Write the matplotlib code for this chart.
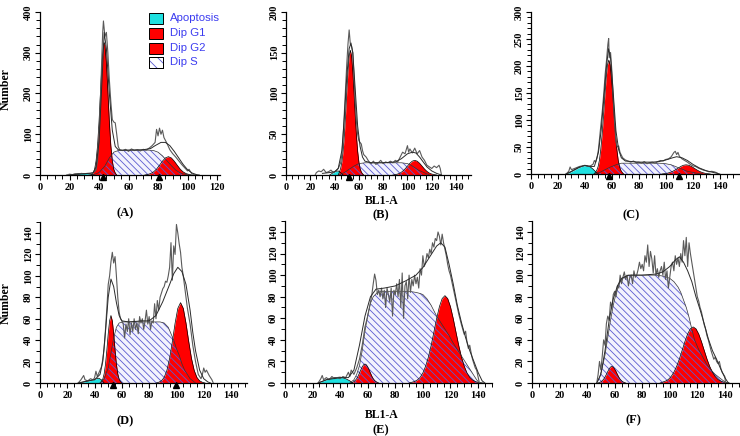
import numpy as np
import matplotlib
matplotlib.use("Agg")
import matplotlib.pyplot as plt
from matplotlib.patches import Rectangle
from matplotlib.ticker import MultipleLocator

W, H = 740, 436

RED = "#ff0000"
CYAN = "#1ee0e0"
LAVENDER = "#f2f2fd"
HATCH_C = "#5a5ad0"
TEXT_BLUE = "#3c3cf0"

LEGEND_LABELS = ["Apoptosis", "Dip G1", "Dip G2", "Dip S"]
PANEL_NAMES = ["(A)", "(B)", "(C)", "(D)", "(E)", "(F)"]

# ---------------- panel A ----------------
A_APOP = [(20, 0), (23, 2), (27, 4), (31, 4), (34, 2), (37, 0)]
A_G1 = [(35, 0), (36, 5), (37, 14), (38, 35), (39, 72), (40, 131), (41, 205), (42, 275), (43, 319),
        (43.5, 325), (44, 319), (45, 275), (46, 205), (47, 131), (48, 72), (49, 35), (50, 14), (51, 5), (52, 0)]
A_S = [(36, 0), (40, 6), (44, 22), (47, 42), (50, 56), (53, 60), (60, 61), (70, 61), (74, 61), (77, 60),
       (80, 56), (83, 47), (86, 35), (89, 23), (92, 12), (95, 5), (98, 2), (101, 0)]
A_G2 = [(71, 0), (73, 1.4), (75, 3.5), (77, 7.7), (79, 14.5), (81, 24), (83, 34), (85, 42), (87, 45), (89, 42),
        (91, 34), (93, 24), (95, 14.5), (97, 7.7), (99, 3.5), (101, 1.4), (103, 0)]
A_RAW = [(18, 0), (20, 2), (22, 1), (24, 3), (26, 2), (28, 4), (30, 3), (32, 4), (34, 4), (36, 6), (37, 8),
         (38, 13), (39, 35), (40, 90), (41, 190), (42, 300), (42.5, 350), (43, 378), (44, 340), (45, 350),
         (46, 300), (47, 234), (48, 180), (49, 136), (50, 130), (51, 128), (52, 100), (53, 70), (54, 62),
         (56, 60), (58, 63), (60, 58), (62, 64), (64, 60), (66, 62), (68, 59), (70, 63), (72, 61), (74, 66),
         (76, 72), (78, 80), (79, 112), (80, 96), (81, 115), (82, 100), (83, 110), (84, 92), (86, 78),
         (88, 62), (90, 52), (92, 44), (94, 35), (96, 26), (98, 18), (100, 10), (101, 14), (102, 8),
         (103, 3), (104, 1), (106, 0)]
A_FIT = [(20, 0), (30, 3), (36, 5), (38, 20), (40, 80), (42, 230), (43.5, 350), (45, 310), (47, 200),
         (49, 110), (51, 70), (53, 62), (55, 61), (60, 61), (70, 62), (75, 65), (78, 72), (82, 80), (85, 80),
         (88, 72), (91, 58), (94, 42), (97, 26), (100, 13), (103, 5), (106, 1), (108, 0)]
A_MARKS = [43, 80.5]

# ---------------- panel B ----------------
B_APOP = [(36, 0), (38, 2), (41, 4.5), (43, 5), (45, 3), (47, 0)]
B_G1 = [(43, 0), (44, 3.7), (45, 8), (46, 16), (47, 29), (48, 48), (49, 73), (50, 101), (51, 127), (52, 146),
        (53, 153), (54, 146), (55, 127), (56, 101), (57, 73), (58, 48), (59, 29), (60, 16), (61, 8),
        (62, 3.7), (63, 1.5), (64, 0)]
B_S = [(44, 0), (48, 3), (52, 7), (56, 11), (60, 14), (65, 15), (80, 15), (95, 15), (100, 14), (103, 12),
       (106, 9), (109, 6), (112, 4), (115, 2), (118, 0)]
B_G2 = [(88, 0), (90, 0.5), (92, 1.2), (94, 2.4), (96, 4.5), (98, 7.4), (100, 10.9), (102, 14.4), (104, 17),
        (106, 18), (108, 17), (110, 14.4), (112, 10.9), (114, 7.4), (116, 4.5), (118, 2.4), (120, 1.2),
        (122, 0.5), (124, 0)]
B_RAW = [(24, 0), (25, 3), (27, 5), (29, 4), (31, 7), (33, 3), (35, 4), (37, 6), (39, 3), (41, 5), (43, 8),
         (45, 15), (46, 25), (47, 45), (48, 75), (49, 105), (50, 135), (51, 160), (52, 178), (53, 160),
         (54, 158), (55, 150), (56, 120), (57, 90), (58, 65), (59, 50), (60, 42), (61, 40), (62, 38),
         (63, 30), (64, 25), (66, 22), (68, 17), (70, 14), (72, 17), (74, 13), (76, 15), (78, 18), (80, 14),
         (82, 16), (84, 15), (86, 17), (88, 15), (90, 18), (92, 16), (94, 22), (96, 28), (98, 26), (100, 36),
         (101, 28), (102, 32), (104, 27), (106, 33), (108, 26), (110, 30), (112, 22), (114, 18), (116, 12),
         (118, 10), (120, 8), (122, 11), (124, 9), (126, 12), (127, 8), (128, 0)]
B_FIT = [(30, 2), (36, 3), (40, 4), (43, 8), (46, 30), (48, 70), (50, 120), (52, 155), (53.5, 162),
         (55, 150), (57, 105), (59, 60), (61, 35), (63, 22), (65, 17), (70, 15), (80, 15), (90, 16), (95, 20),
         (100, 26), (104, 28), (107, 27), (110, 22), (113, 16), (116, 10), (120, 5), (124, 2), (128, 0)]
B_MARKS = [51.6]

# ---------------- panel C ----------------
C_APOP = [(26, 0), (29, 3), (32, 7), (35, 11), (38, 14.5), (40, 15.5), (42, 15), (44, 13), (46, 9),
          (48, 4), (50, 0)]
C_G1 = [(46.7, 0), (47.7, 2.8), (48.7, 6.4), (49.7, 13), (50.7, 25), (51.7, 44.5), (52.7, 71.5),
        (53.7, 105.5), (54.7, 143), (55.7, 177), (56.7, 202), (57.7, 211), (58.7, 202), (59.7, 177),
        (60.7, 143), (61.7, 105.5), (62.7, 71.5), (63.7, 44.5), (64.7, 25), (65.7, 13), (66.7, 6.4),
        (67.7, 2.8), (68.7, 0)]
C_S = [(47, 0), (51, 3), (55, 8), (59, 13), (63, 17), (67, 20), (75, 20), (85, 20), (95, 20), (100, 19),
       (104, 17), (108, 13), (112, 9), (116, 5), (120, 3), (124, 1), (127, 0)]
C_G2 = [(97, 0), (99, 0.7), (101, 1.4), (103, 2.8), (105, 4.8), (107, 7.6), (109, 10.8), (111, 13.9),
        (113, 16.2), (115, 17), (117, 16.2), (119, 13.9), (121, 10.8), (123, 7.6), (125, 4.8), (127, 2.8),
        (129, 1.4), (131, 0.7), (133, 0)]
C_RAW = [(26, 0), (28, 5), (29, 13), (30, 8), (32, 10), (34, 12), (36, 14), (38, 15), (40, 16), (42, 14),
         (44, 15), (46, 18), (47, 25), (48, 22), (49, 30), (50, 45), (51, 70), (52, 95), (53, 120), (54, 150),
         (55, 185), (56, 210), (57, 240), (57.6, 251), (58, 215), (59, 225), (60, 190), (61, 140), (62, 95),
         (63, 60), (64, 50), (65, 52), (66, 40), (67, 35), (68, 30), (70, 26), (72, 24), (74, 22), (76, 24),
         (78, 21), (80, 22), (82, 20), (84, 23), (86, 19), (88, 21), (90, 22), (92, 20), (94, 23), (96, 25),
         (98, 24), (100, 27), (102, 28), (104, 32), (106, 40), (107, 42), (108, 36), (109, 40), (110, 33),
         (112, 28), (114, 25), (116, 22), (118, 18), (120, 15), (122, 14), (124, 11), (126, 9), (128, 7),
         (130, 6), (132, 4), (134, 5), (136, 4), (138, 2), (139, 0)]
C_FIT = [(26, 0), (30, 5), (35, 12), (40, 16), (44, 14), (47, 14), (50, 40), (52, 80), (54, 140), (56, 200),
         (57.5, 232), (59, 215), (61, 150), (63, 80), (65, 45), (67, 30), (70, 24), (80, 22), (90, 22),
         (95, 23), (100, 26), (105, 30), (108, 32), (112, 30), (116, 25), (120, 18), (125, 11), (130, 6),
         (135, 3), (140, 0)]
C_MARKS = [57.5, 110]

# ---------------- panel D ----------------
D_APOP = [(28, 0), (32, 1), (36, 2), (40, 3.5), (43, 4.5), (45, 3), (47, 0)]
D_G1 = [(44, 0), (45, 1.3), (46, 3.5), (47, 8.5), (48, 17.5), (49, 30.7), (50, 46), (51, 58), (52, 63),
        (53, 58), (54, 46), (55, 30.7), (56, 17.5), (57, 8.5), (58, 3.5), (59, 1.3), (60, 0)]
D_S = [(44, 0), (47, 4), (50, 14), (52, 28), (54, 42), (56, 52), (58, 56), (61, 57), (70, 57), (80, 57),
       (88, 57), (91, 56), (94, 52), (96, 46), (98, 40), (100, 32), (102, 26), (104, 18), (106, 12),
       (108, 8), (110, 4), (112, 2), (114, 0)]
D_G2 = [(85, 0), (87, 0.7), (89, 2), (91, 5.2), (93, 11.8), (95, 23), (97, 38.6), (99, 55.8), (101, 69.7),
        (103, 75), (105, 69.7), (107, 55.8), (109, 38.6), (111, 23), (113, 11.8), (115, 5.2), (117, 2),
        (119, 0.7), (121, 0)]
D_RAW = [(28, 0), (30, 3), (32, 7), (33, 3), (35, 2), (37, 4), (39, 3), (40, 5), (41, 11), (42, 6), (43, 9),
         (44, 12), (45, 15), (46, 22), (47, 32), (48, 50), (49, 70), (50, 92), (51, 100), (52, 113),
         (53, 122), (54, 112), (55, 118), (56, 100), (57, 80), (58, 66), (59, 60), (60, 58), (61, 55),
         (62, 42), (63, 55), (64, 48), (65, 60), (66, 45), (67, 56), (68, 48), (69, 60), (70, 50), (71, 56),
         (72, 46), (73, 62), (74, 56), (75, 60), (76, 50), (77, 58), (78, 68), (79, 55), (80, 62), (81, 50),
         (82, 58), (83, 56), (84, 74), (85, 60), (86, 77), (87, 68), (88, 80), (89, 84), (90, 88), (91, 90),
         (92, 95), (93, 94), (94, 100), (95, 108), (96, 131), (97, 96), (98, 128), (99, 120), (100, 148),
         (101, 140), (102, 130), (103, 122), (104, 108), (105, 100), (106, 90), (107, 80), (108, 70),
         (110, 55), (112, 35), (114, 20), (116, 8), (118, 4), (119, 8), (120, 14), (121, 10), (122, 12),
         (124, 7), (126, 3), (127, 0)]
D_FIT = [(28, 0), (35, 2), (40, 3), (44, 8), (46, 20), (48, 48), (50, 80), (52, 97), (54, 90), (56, 75),
         (58, 63), (60, 58), (65, 57), (75, 58), (80, 58), (85, 63), (90, 76), (95, 92), (98, 102),
         (101, 108), (104, 104), (107, 92), (110, 68), (112, 47), (114, 30), (117, 12), (120, 4), (123, 1),
         (125, 0)]
D_MARKS = [53.7, 100]

# ---------------- panel E ----------------
E_APOP = [(24, 0), (28, 2), (32, 4), (36, 5), (40, 5.5), (44, 4), (47, 2), (49, 0)]
E_G1 = [(48, 0), (49, 0.6), (50, 1.3), (51, 2.4), (52, 4), (53, 6.3), (54, 9.2), (55, 12.2), (56, 14.9),
        (57, 16.9), (58, 17.6), (59, 16.9), (60, 14.9), (61, 12.2), (62, 9.2), (63, 6.3), (64, 4), (65, 2.4),
        (66, 1.3), (67, 0.6), (68, 0)]
E_S = [(47, 0), (50, 3), (52, 8), (54, 16), (56, 30), (58, 48), (60, 63), (62, 74), (64, 80), (67, 84),
       (70, 85), (80, 85), (90, 85), (95, 84), (98, 83), (100, 82), (103, 78), (106, 72), (108, 67),
       (110, 62), (113, 56), (116, 50), (119, 44), (122, 37), (125, 31), (128, 25), (131, 19), (134, 13),
       (137, 7), (139, 3), (141, 0)]
E_G2 = [(90, 0), (92, 0.7), (94, 1.4), (96, 2.8), (98, 5.2), (100, 9.3), (102, 15.6), (104, 24), (106, 34.8),
        (108, 47.2), (110, 59.8), (112, 70.8), (114, 78.3), (116, 81), (118, 78.3), (120, 70.8), (122, 59.8),
        (124, 47.2), (126, 34.8), (128, 24), (130, 15.6), (132, 9.3), (134, 5.2), (136, 2.8), (138, 1.4),
        (140, 0.6), (142, 0.3), (144, 0)]
E_RAW = [(24, 0), (26, 4), (27, 7), (28, 3), (30, 5), (32, 3), (34, 6), (36, 4), (38, 5), (40, 4), (42, 6),
         (44, 5), (46, 10), (47, 6), (48, 12), (50, 8), (52, 14), (54, 22), (56, 35), (58, 52), (60, 62),
         (62, 75), (63, 82), (64, 92), (65, 101), (66, 95), (67, 82), (68, 86), (69, 80), (70, 88), (71, 78),
         (72, 86), (73, 70), (74, 88), (75, 82), (76, 75), (77, 88), (78, 62), (79, 86), (80, 82), (81, 92),
         (82, 80), (83, 96), (84, 70), (85, 102), (86, 60), (87, 90), (88, 94), (89, 78), (90, 100), (91, 84),
         (92, 96), (93, 90), (94, 100), (95, 92), (96, 98), (97, 88), (98, 106), (99, 100), (100, 118),
         (101, 108), (102, 112), (103, 120), (104, 116), (105, 124), (106, 120), (107, 130), (108, 126),
         (109, 134), (110, 132), (111, 140), (112, 136), (113, 128), (114, 138), (115, 130), (116, 124),
         (117, 118), (118, 110), (119, 104), (120, 100), (122, 88), (124, 76), (126, 64), (128, 54),
         (130, 45), (131, 48), (132, 38), (133, 32), (134, 35), (135, 28), (136, 22), (137, 18), (138, 14),
         (139, 12), (140, 6), (141, 0)]
E_FIT = [(24, 0), (30, 3), (40, 5), (46, 5), (50, 12), (54, 35), (58, 62), (62, 80), (66, 87), (72, 88),
         (80, 90), (88, 95), (95, 100), (100, 107), (105, 117), (110, 127), (113, 130), (116, 126),
         (119, 110), (122, 92), (125, 72), (128, 56), (131, 42), (134, 30), (137, 20), (140, 10), (143, 2),
         (145, 0)]
E_MARKS = []

# ---------------- panel F ----------------
F_APOP = []
F_G1 = [(48, 0), (49, 0.5), (50, 1.1), (51, 2.1), (52, 3.5), (53, 5.5), (54, 8), (55, 10.7), (56, 13),
        (57, 14.8), (58, 15.4), (59, 14.8), (60, 13), (61, 10.7), (62, 8), (63, 5.5), (64, 3.5), (65, 2.1),
        (66, 1.1), (67, 0.5), (68, 0)]
F_S = [(47, 0), (49, 5), (51, 14), (53, 26), (55, 42), (57, 58), (59, 72), (61, 83), (63, 91), (65, 96),
       (68, 99), (72, 100), (80, 100), (90, 100), (96, 99), (100, 97), (103, 94), (106, 89), (108, 84),
       (110, 77), (112, 70), (114, 61), (116, 50), (118, 40), (121, 31), (124, 24), (127, 17), (130, 12),
       (133, 8), (136, 5), (139, 2), (142, 0)]
F_G2 = [(93, 0), (95, 0.9), (97, 1.8), (99, 3.3), (101, 6), (103, 10), (105, 15.4), (107, 22.3), (109, 30.3),
        (111, 38.4), (113, 45.5), (115, 50.3), (117, 52), (119, 50.3), (121, 45.5), (123, 38.4), (125, 30.3),
        (127, 22.3), (129, 15.4), (131, 10), (133, 6), (135, 3.3), (137, 1.8), (139, 0.9), (141, 0.4),
        (143, 0)]
F_RAW = [(47, 0), (48, 8), (49, 20), (50, 12), (51, 25), (52, 40), (53, 35), (54, 55), (55, 62), (56, 58),
         (57, 75), (58, 70), (59, 82), (60, 85), (61, 80), (62, 90), (63, 88), (64, 100), (65, 92), (66, 98),
         (67, 103), (68, 96), (69, 100), (70, 90), (71, 98), (72, 100), (73, 92), (74, 104), (75, 98),
         (76, 100), (77, 105), (78, 112), (79, 106), (80, 110), (81, 104), (82, 118), (83, 112), (84, 128),
         (85, 108), (86, 122), (87, 115), (88, 102), (89, 118), (90, 100), (91, 106), (92, 98), (93, 104),
         (94, 108), (95, 100), (96, 112), (97, 96), (98, 104), (99, 88), (100, 98), (101, 108), (102, 112),
         (103, 104), (104, 118), (105, 110), (106, 116), (107, 108), (108, 120), (109, 112), (110, 132),
         (111, 118), (112, 135), (113, 108), (114, 130), (115, 120), (116, 112), (117, 104), (118, 96),
         (119, 88), (120, 80), (121, 76), (122, 70), (123, 66), (124, 60), (125, 54), (126, 50), (127, 44),
         (128, 40), (129, 35), (130, 30), (131, 26), (132, 22), (133, 24), (134, 20), (135, 18), (136, 20),
         (137, 14), (138, 10), (139, 8), (140, 6), (140.5, 0)]
F_FIT = [(47, 0), (50, 8), (53, 30), (56, 58), (59, 78), (62, 90), (65, 97), (70, 100), (80, 100),
         (90, 101), (95, 103), (100, 108), (104, 114), (107, 117), (110, 112), (113, 104), (116, 94),
         (119, 80), (122, 68), (125, 55), (128, 41), (131, 30), (134, 22), (137, 13), (140, 5), (142, 1),
         (143, 0)]
F_MARKS = []

# axes placement in pixels: left, right, top, bottom
PANELS = [
    dict(px=(40, 220, 12, 175), xlim=122, ylim=400, ymaj=100, ymin=20,
         apop=A_APOP, g1=A_G1, s=A_S, g2=A_G2, raw=A_RAW, fit=A_FIT, marks=A_MARKS),
    dict(px=(286, 470.6, 12, 175), xlim=152, ylim=200, ymaj=50, ymin=10,
         apop=B_APOP, g1=B_G1, s=B_S, g2=B_G2, raw=B_RAW, fit=B_FIT, marks=B_MARKS),
    dict(px=(531, 740, 12, 174), xlim=155, ylim=300, ymaj=50, ymin=10,
         apop=C_APOP, g1=C_G1, s=C_S, g2=C_G2, raw=C_RAW, fit=C_FIT, marks=C_MARKS),
    dict(px=(40, 247.4, 222.3, 383), xlim=152, ylim=150, ymaj=20, ymin=10,
         apop=D_APOP, g1=D_G1, s=D_S, g2=D_G2, raw=D_RAW, fit=D_FIT, marks=D_MARKS),
    dict(px=(285, 491.8, 221.2, 383), xlim=150, ylim=150, ymaj=20, ymin=10,
         apop=E_APOP, g1=E_G1, s=E_S, g2=E_G2, raw=E_RAW, fit=E_FIT, marks=E_MARKS),
    dict(px=(532, 740, 221.2, 383), xlim=151, ylim=150, ymaj=20, ymin=10,
         apop=F_APOP, g1=F_G1, s=F_S, g2=F_G2, raw=F_RAW, fit=F_FIT, marks=F_MARKS),
]

plt.rcParams["font.family"] = "Liberation Serif"
plt.rcParams["font.weight"] = "bold"
plt.rcParams["hatch.linewidth"] = 0.6
HATCH = "\\" * 5

fig = plt.figure(figsize=(W / 100, H / 100), dpi=100)


def xy(pairs):
    a = np.array(pairs, dtype=float)
    return a[:, 0], a[:, 1]


def component(ax, pairs, color, z):
    if not pairs:
        return
    x, y = xy(pairs)
    ax.fill_between(x, y, color=color, lw=0, zorder=z)
    ax.plot(x, y, color="black", lw=0.5, zorder=4)


for p in PANELS:
    l, r, t, b = p["px"]
    ax = fig.add_axes([l / W, 1 - b / H, (r - l) / W, (b - t) / H])
    ax.set_xlim(0, p["xlim"])
    ax.set_ylim(0, p["ylim"])

    sx, sy = xy(p["s"])
    ax.fill_between(sx, sy, color=LAVENDER, lw=0, zorder=1)
    component(ax, p["apop"], CYAN, 2)
    component(ax, p["g1"], RED, 2)
    component(ax, p["g2"], RED, 2)
    ax.fill_between(sx, sy, facecolor="none", edgecolor=HATCH_C, hatch=HATCH, lw=0, zorder=3)
    ax.plot(sx, sy, color="#333333", lw=0.5, zorder=4)

    rx, ry = xy(p["raw"])
    ax.plot(rx, ry, color="#5a5a5a", lw=0.8, zorder=5)
    fx, fy = xy(p["fit"])
    ax.plot(fx, fy, color="#2a2a2a", lw=0.7, zorder=5)

    for m in p["marks"]:
        ax.plot([m], [-0.012], marker="^", color="black", ms=4.5,
                transform=ax.get_xaxis_transform(), clip_on=False, zorder=6)

    for side in ["top", "right"]:
        ax.spines[side].set_visible(False)
    for side in ["left", "bottom"]:
        ax.spines[side].set_linewidth(0.9)
    ax.set_facecolor("none")
    ax.xaxis.set_major_locator(MultipleLocator(20))
    ax.xaxis.set_minor_locator(MultipleLocator(5))
    ax.yaxis.set_major_locator(MultipleLocator(p["ymaj"]))
    ax.yaxis.set_minor_locator(MultipleLocator(p["ymin"]))
    ax.tick_params(which="major", length=3.5, width=0.8, labelsize=7.5, pad=2)
    ax.tick_params(which="minor", length=2.8, width=0.7)
    ax.tick_params(axis="y", labelrotation=90, pad=1.5)
    for lab in ax.get_yticklabels():
        lab.set_va("center")

# overlay in pixel coordinates for labels and legend
ov = fig.add_axes([0, 0, 1, 1], zorder=10)
ov.set_xlim(0, W)
ov.set_ylim(H, 0)
ov.axis("off")

for yc in (89, 303):
    ov.text(6, yc, "Number", rotation=90, ha="center", va="center", fontsize=8.5)
for yc in (201, 415):
    ov.text(382, yc, "BL1-A", ha="center", va="center", fontsize=8.5)

label_pos = [(125, 213), (381, 215), (631, 215), (125, 421), (381, 430), (633, 420)]
for name, (px, py) in zip(PANEL_NAMES, label_pos):
    ov.text(px, py, name, ha="center", va="center", fontsize=9)

legend_rows = [18.3, 33.3, 48.3, 62.3]
legend_faces = [CYAN, RED, RED, "white"]
for lab, yc, fc in zip(LEGEND_LABELS, legend_rows, legend_faces):
    ov.add_patch(Rectangle((149, yc - 5.5), 14, 11, facecolor=fc, edgecolor="black", lw=0.7))
    if lab == "Dip S":
        ov.add_patch(Rectangle((149, yc - 5.5), 14, 11, facecolor="none", edgecolor=HATCH_C,
                               hatch="\\\\\\", lw=0))
        ov.add_patch(Rectangle((149, yc - 5.5), 14, 11, facecolor="none", edgecolor="black", lw=0.7))
    ov.text(170, yc, lab, ha="left", va="center", fontsize=8.2, color=TEXT_BLUE,
            family="Liberation Sans", fontweight="normal")

fig.savefig("out.png", dpi=100)
